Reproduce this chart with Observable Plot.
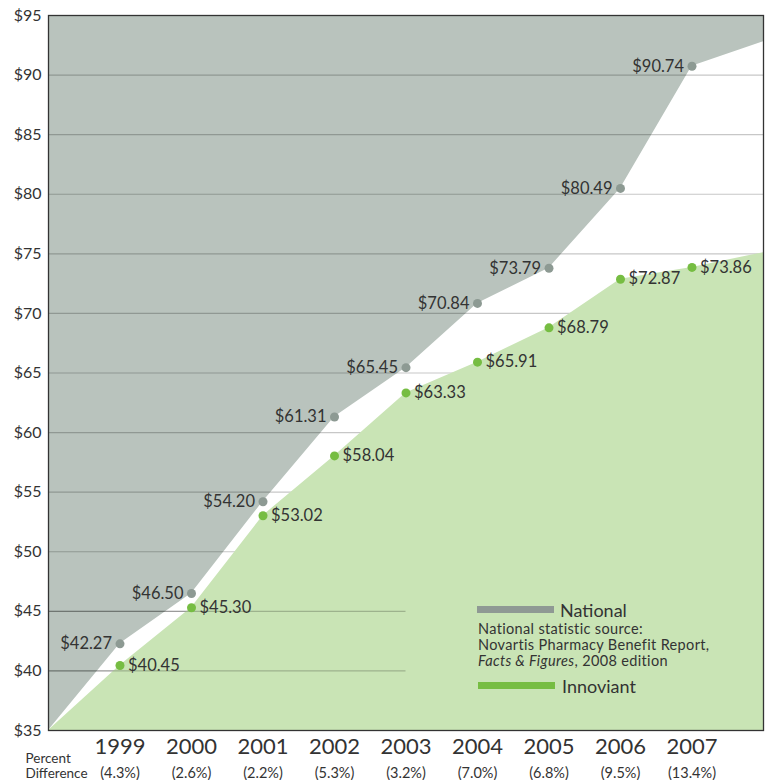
<!DOCTYPE html>
<html>
<head>
<meta charset="utf-8">
<script src="https://cdn.jsdelivr.net/npm/d3@7"></script>
<script src="https://cdn.jsdelivr.net/npm/@observablehq/plot@0.6"></script>
<style>
  body { margin: 0; background: #fff; font-family: Lato, "Open Sans", sans-serif; }
  #wrap { position: relative; width: 765px; height: 780px; }
  .legend { position: absolute; color: #333; font-family: Lato, sans-serif; white-space: nowrap; }
  .bar { position: absolute; height: 7px; }
</style>
</head>
<body>
<div id="wrap"></div>
<script>
const years = [1999, 2000, 2001, 2002, 2003, 2004, 2005, 2006, 2007];
const national = [42.27, 46.50, 54.20, 61.31, 65.45, 70.84, 73.79, 80.49, 90.74];
const innoviant = [40.45, 45.30, 53.02, 58.04, 63.33, 65.91, 68.79, 72.87, 73.86];
const pctDiff = ["(4.3%)", "(2.6%)", "(2.2%)", "(5.3%)", "(3.2%)", "(7.0%)", "(6.8%)", "(9.5%)", "(13.4%)"];
const yTicks = [35, 40, 45, 50, 55, 60, 65, 70, 75, 80, 85, 90, 95];
const startYear = 1998, endYear = 2008;
const baseValue = 35, topValue = 95;
const nationalEnd = 92.8, innoviantEnd = 75.1;
const partialGridValues = [40, 45];
const partialGridEndYear = 2003;

const natPts = years.map((y, i) => ({year: y, value: national[i]}));
const innPts = years.map((y, i) => ({year: y, value: innoviant[i]}));
const natEdge = [{year: startYear, value: baseValue}, ...natPts, {year: endYear, value: nationalEnd}];
const innEdge = [{year: startYear, value: baseValue}, ...innPts, {year: endYear, value: innoviantEnd}];
const yearRows = years.map((y, i) => ({year: y, pct: pctDiff[i]}));

const greyFill = "#b9c3bd", greenFill = "#c9e4b5";
const natDot = "#8d9a93", innDot = "#76bd42";
const txt = "#333";

const chart = Plot.plot({
  width: 765,
  height: 780,
  marginTop: 15,
  marginLeft: 48,
  marginRight: 2,
  marginBottom: 50,
  style: {fontFamily: "Lato, sans-serif", color: txt, background: "#fff"},
  x: {domain: [startYear, endYear], axis: null},
  y: {domain: [baseValue, topValue], ticks: yTicks, tickFormat: d => "$" + d, tickSize: 0, tickPadding: 7, label: null},
  marks: [
    Plot.areaY(natEdge, {x: "year", y1: "value", y2: topValue, fill: greyFill}),
    Plot.ruleY(yTicks.slice(1, -1), {stroke: "#000", strokeOpacity: 0.22, strokeWidth: 1.2}),
    Plot.areaY(innEdge, {x: "year", y1: baseValue, y2: "value", fill: greenFill}),
    Plot.ruleY(partialGridValues, {x1: startYear, x2: partialGridEndYear, stroke: "#000", strokeOpacity: 0.22, strokeWidth: 1.2}),
    Plot.axisY({ticks: yTicks, tickFormat: d => "$" + d, tickSize: 0, tickPadding: 7, fontSize: 16, fill: txt, label: null}),
    Plot.dot(natPts, {x: "year", y: "value", r: 4.5, fill: natDot}),
    Plot.dot(innPts, {x: "year", y: "value", r: 4.5, fill: innDot}),
    Plot.text(natPts, {x: "year", y: "value", text: d => "$" + d.value.toFixed(2), textAnchor: "end", dx: -8, fontSize: 16.5, fill: txt}),
    Plot.text(innPts, {x: "year", y: "value", text: d => "$" + d.value.toFixed(2), textAnchor: "start", dx: 8, fontSize: 16.5, fill: txt}),
    Plot.text(yearRows, {x: "year", text: d => String(d.year), frameAnchor: "bottom", dy: 23, fontSize: 22, fill: txt}),
    Plot.text(yearRows, {x: "year", text: "pct", frameAnchor: "bottom", dy: 47, fontSize: 14.5, fill: txt}),
    Plot.text(["Percent"], {frameAnchor: "bottom-left", textAnchor: "start", dx: -23, dy: 32, fontSize: 13.5, fill: txt}),
    Plot.text(["Difference"], {frameAnchor: "bottom-left", textAnchor: "start", dx: -23, dy: 47, fontSize: 13.5, fill: txt}),
    Plot.frame({stroke: "#333", strokeWidth: 1.3})
  ]
});
const wrap = document.getElementById("wrap");
wrap.appendChild(chart);

const legendHTML = `
  <div class="bar" style="left:477px; top:606px; width:77px; background:#8f9994"></div>
  <div class="legend" style="left:560px; top:599px; font-size:18px; line-height:22px">National</div>
  <div class="legend" style="left:478px; top:621px; font-size:14.5px; line-height:16px; letter-spacing:0.35px">National statistic source:<br>Novartis Pharmacy Benefit Report,<br><i>Facts &amp; Figures</i>, 2008 edition</div>
  <div class="bar" style="left:478px; top:682px; width:77px; background:#76bd42"></div>
  <div class="legend" style="left:562px; top:675px; font-size:18px; line-height:22px">Innoviant</div>
`;
const lg = document.createElement("div");
lg.innerHTML = legendHTML;
while (lg.firstChild) wrap.appendChild(lg.firstChild);
</script>
</body>
</html>
